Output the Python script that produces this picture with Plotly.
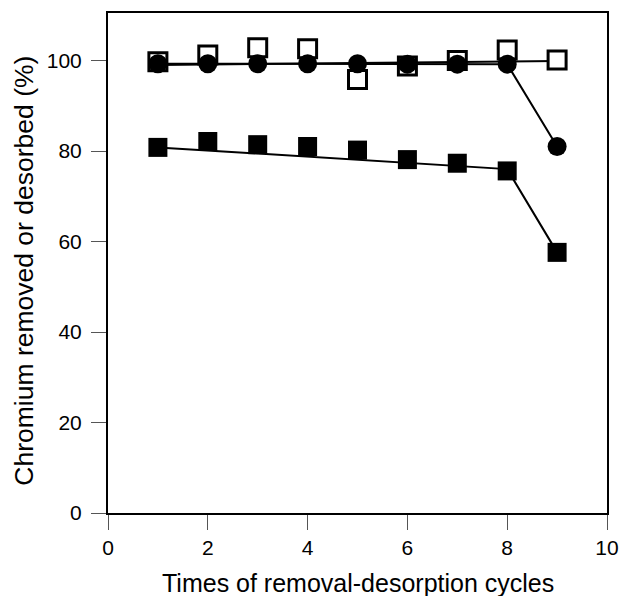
import plotly.graph_objects as go

cycles = [1, 2, 3, 4, 5, 6, 7, 8, 9]
circles = [99.3, 99.3, 99.3, 99.3, 99.3, 99.2, 99.2, 99.2, 81.0]
open_sq = [99.7, 101.2, 102.8, 102.6, 95.8, 98.8, 100.0, 102.3, 100.1]
filled_sq = [80.8, 82.1, 81.4, 81.0, 80.2, 78.1, 77.3, 75.6, 57.6]

open_trend_x = [1, 9]
open_trend_y = [99.0, 99.9]
filled_trend_x = [1, 8, 9]
filled_trend_y = [80.8, 76.0, 57.6]

x_ticks = [0, 2, 4, 6, 8, 10]
y_ticks = [0, 20, 40, 60, 80, 100]

x_title = "Times of removal-desorption cycles"
y_title = "Chromium removed or desorbed (%)"

FONT = "Liberation Sans, Arial, sans-serif"

fig = go.Figure()

fig.add_trace(go.Scatter(x=open_trend_x, y=open_trend_y, mode="lines",
                         line=dict(color="black", width=2), showlegend=False))
fig.add_trace(go.Scatter(x=filled_trend_x, y=filled_trend_y, mode="lines",
                         line=dict(color="black", width=2), showlegend=False))
fig.add_trace(go.Scatter(x=cycles, y=open_sq, mode="markers",
                         marker=dict(symbol="square", size=18, color="white",
                                     line=dict(color="black", width=3)),
                         showlegend=False))
fig.add_trace(go.Scatter(x=cycles, y=circles, mode="lines+markers",
                         line=dict(color="black", width=2),
                         marker=dict(symbol="circle", size=19, color="black"),
                         showlegend=False))
fig.add_trace(go.Scatter(x=cycles, y=filled_sq, mode="markers",
                         marker=dict(symbol="square", size=19, color="black"),
                         showlegend=False))

axis_common = dict(
    showline=True, linecolor="black", linewidth=2, mirror=True,
    ticks="outside", ticklen=15, tickwidth=1, tickcolor="#555555",
    showgrid=False, zeroline=False, automargin=False,
    tickfont=dict(family=FONT, size=21, color="black"),
)

fig.update_xaxes(range=[0, 10], tickvals=x_ticks, **axis_common)
fig.update_yaxes(range=[0, 110.5], tickvals=y_ticks, ticklabelstandoff=5,
                 **axis_common)

fig.add_annotation(text=x_title, xref="paper", yref="paper",
                   x=0.5, y=-0.14, xanchor="center", yanchor="middle",
                   showarrow=False,
                   font=dict(family=FONT, size=25, color="black"))
fig.add_annotation(text=y_title, xref="paper", yref="paper",
                   x=-0.17, y=0.485, xanchor="center", yanchor="middle",
                   textangle=-90, showarrow=False,
                   font=dict(family=FONT, size=26.5, color="black"))

fig.update_layout(
    width=619, height=596,
    margin=dict(l=108, r=12, t=13, b=83),
    paper_bgcolor="white", plot_bgcolor="white",
)

fig.write_html("out.html")
